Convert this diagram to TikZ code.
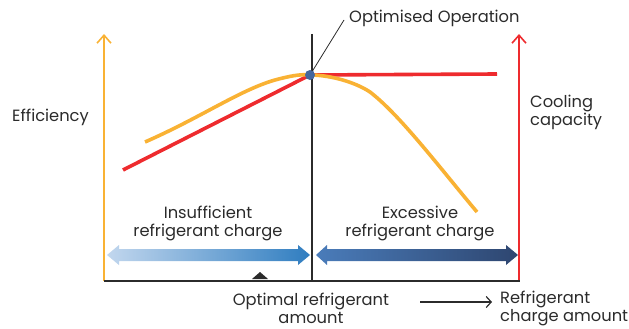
\documentclass[tikz,border=0pt]{standalone}
\usepackage{fontspec}
\setmainfont{Poppins}
\usetikzlibrary{arrows.meta}
\definecolor{eorange}{HTML}{F9B234}
\definecolor{ered}{HTML}{EE2B2E}
\definecolor{edot}{HTML}{44679E}
\definecolor{lblueA}{HTML}{C2D7EE}
\definecolor{lblueB}{HTML}{2F7DC0}
\definecolor{dblueA}{HTML}{4A7CBA}
\definecolor{dblueB}{HTML}{2E4670}
\definecolor{ink}{HTML}{2B2B2B}
\tikzset{
  lbl/.style={font=\fontsize{16.3}{17.5}\selectfont, text=ink, inner sep=0pt, align=center},
  lbll/.style={lbl, align=left, anchor=west},
  axisarrow/.style={line width=1.6pt, -{Straight Barb[length=8pt,width=14pt,line width=1.6pt]}},
  curve/.style={line width=3.6pt},
}
\begin{document}
\begin{tikzpicture}[x=1pt,y=-1pt]
\useasboundingbox (0,0) rectangle (629,329);
% coordinates
\coordinate (oa0) at (104,281);
\coordinate (oa1) at (104,34);
\coordinate (ra0) at (519,281);
\coordinate (ra1) at (519,34);
\coordinate (vl0) at (312,34);
\coordinate (vl1) at (312,281);
\coordinate (bl0) at (104,281);
\coordinate (bl1) at (520,281);
% axes
\draw[eorange, axisarrow] (oa0) -- (oa1);
\draw[ered, axisarrow] (ra0) -- (ra1);
\draw[ink, line width=1.4pt] (vl0) -- (vl1);
\draw[ink, line width=2pt] (bl0) -- (bl1);
% curves
\coordinate (peak) at (310,75);
\draw[ered, curve] (123,170) -- (peak) -- (497,74);
\draw[eorange, curve, line cap=butt]
  (145,142) .. controls (200,118) and (240,90) .. (275,80)
  .. controls (290,76) and (300,74) .. (peak)
  .. controls (330,75) and (355,82) .. (370,92)
  .. controls (400,115) and (440,168) .. (477,212);
% leader
\node[lbll] (opt) at (349,18.5) {Optimised Operation};
\draw[ink, line width=0.8pt] (peak) -- (344,20);
\node[circle, fill=edot, inner sep=0pt, minimum size=10pt] (dot) at (peak) {};
% labels
\node[lbll] (eff) at (12,117.5) {Efficiency};
\node[lbll] (cool) at (530,112.5) {Cooling\\capacity};
\node[lbl] (ins) at (208,223.5) {Insufficient\\refrigerant charge};
\node[lbl] (exc) at (420,223.5) {Excessive\\refrigerant charge};
\node[lbl] (optam) at (311,308.5) {Optimal refrigerant\\amount};
\node[lbll] (rca) at (500,308.5) {Refrigerant\\charge amount};
\coordinate (ar0) at (420,302);
\coordinate (ar1) at (492,302);
\draw[ink, line width=1.2pt, -{Straight Barb[length=5pt,width=11pt,line width=1.2pt]}] (ar0) -- (ar1);
% double arrows
\shade[left color=lblueA, right color=lblueB]
  (107,255) -- (119,245) -- (119,249) -- (298,249) -- (298,245) -- (310,255)
  -- (298,265) -- (298,261) -- (119,261) -- (119,265) -- cycle;
\shade[left color=dblueA, right color=dblueB]
  (316,255) -- (327,245) -- (327,249) -- (506,249) -- (506,245) -- (518,255)
  -- (506,265) -- (506,261) -- (327,261) -- (327,265) -- cycle;
% marker
\fill[ink] (260,272) -- (268,279) -- (252,279) -- cycle;
\end{tikzpicture}
\end{document}
